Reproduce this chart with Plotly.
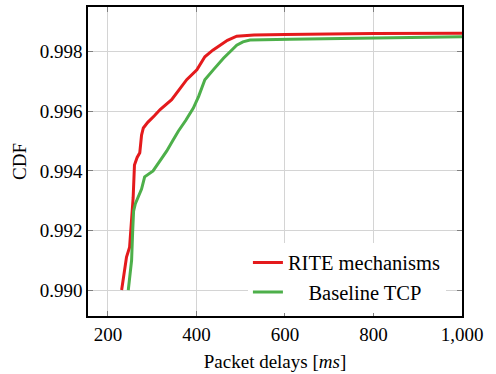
import plotly.graph_objects as go

# Packet delay CDF samples (delay in ms, cumulative probability)
rite_delay = [231, 236, 242, 249, 254, 257, 260, 266, 272, 276, 280, 290, 305, 318,
              344, 360, 378, 401, 419, 437, 453, 470, 491, 530, 600, 700, 800, 1000]
rite_cdf = [0.99000, 0.99050, 0.99111, 0.99144, 0.99250, 0.99310, 0.99420, 0.99445,
            0.99461, 0.99520, 0.99544, 0.99563, 0.99585, 0.99606, 0.99639, 0.99670,
            0.99706, 0.99739, 0.99783, 0.99805, 0.99822, 0.99838, 0.99852, 0.99856,
            0.99858, 0.99860, 0.99861, 0.99862]

base_delay = [246, 250, 253.5, 256, 258, 262, 270, 276, 283, 291, 302, 316, 333, 346,
              359, 376, 393, 405, 419, 438, 450, 461, 476, 491, 505, 521, 611, 800, 1000]
base_cdf = [0.99000, 0.99050, 0.99100, 0.99200, 0.99265, 0.99290, 0.99320, 0.99339,
            0.99380, 0.99389, 0.99400, 0.99430, 0.99467, 0.99500, 0.99533, 0.99570,
            0.99611, 0.99650, 0.99706, 0.99739, 0.99760, 0.99778, 0.99800, 0.99822,
            0.99833, 0.99839, 0.99842, 0.99847, 0.99850]

x_ticks = [200, 400, 600, 800, 1000]
x_tick_text = ["200", "400", "600", "800", "1,000"]
y_ticks = [0.990, 0.992, 0.994, 0.996, 0.998]
y_tick_text = ["0.990", "0.992", "0.994", "0.996", "0.998"]

FONT = "'Liberation Serif', 'DejaVu Serif', serif"
RED = "#e41a1c"
GREEN = "#4daf4a"

fig = go.Figure()
fig.add_trace(go.Scatter(x=rite_delay, y=rite_cdf, mode="lines",
                         name="RITE mechanisms",
                         line=dict(color=RED, width=3)))
fig.add_trace(go.Scatter(x=base_delay, y=base_cdf, mode="lines",
                         name="&nbsp;&nbsp;&nbsp;&nbsp;Baseline TCP",
                         line=dict(color=GREEN, width=3)))

axis_common = dict(
    showgrid=True, gridcolor="#d4d4d4", gridwidth=1,
    showline=True, linecolor="black", linewidth=1.5, mirror="ticks",
    ticks="inside", ticklen=5, tickcolor="#7f7f7f", tickwidth=1,
    zeroline=False,
    tickfont=dict(family=FONT, size=19, color="black"),
)

fig.update_layout(
    width=496, height=374,
    margin=dict(l=88, r=34, t=5, b=58),
    paper_bgcolor="white", plot_bgcolor="white",
    font=dict(family=FONT, size=19, color="black"),
    showlegend=True,
    legend=dict(
        x=0.957, y=0.011, xanchor="right", yanchor="bottom",
        bgcolor="white", borderwidth=0,
        font=dict(family=FONT, size=20.5, color="black"),
        itemwidth=30, tracegroupgap=0,
    ),
    xaxis=dict(
        range=[155, 1000], tickvals=x_ticks, ticktext=x_tick_text,
        title=dict(text="Packet delays [<i>ms</i>]", standoff=11,
                   font=dict(family=FONT, size=19)),
        **axis_common,
    ),
    yaxis=dict(
        range=[0.98913, 0.9995], tickvals=y_ticks, ticktext=y_tick_text,
        title=dict(text="CDF", standoff=8, font=dict(family=FONT, size=19)),
        **axis_common,
    ),
)

fig.write_html("out.html")
